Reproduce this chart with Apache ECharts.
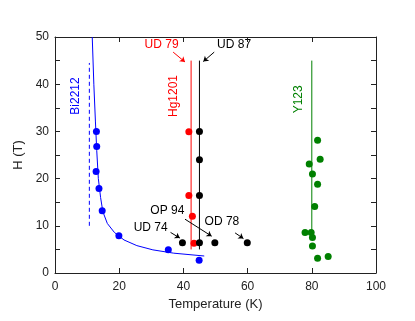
<!DOCTYPE html>
<html>
<head>
<meta charset="utf-8">
<script src="https://cdn.jsdelivr.net/npm/echarts@6/dist/echarts.min.js"></script>
<style>
  html, body { margin: 0; padding: 0; background: #fff; }
  #chart { width: 415px; height: 321px; }
</style>
</head>
<body>
<div id="chart"></div>
<script>
// measured points, [T (K), H (T)]
const bi2212Points = [[12.9, 30], [13.0, 26.8], [12.8, 21.5], [13.7, 17.9], [14.7, 13.2], [19.9, 7.9], [35.3, 4.9], [44.9, 2.7]]
const bi2212Curve = [[11.6, 50], [12.1, 40], [12.6, 32], [13.0, 26], [13.5, 20], [14.2, 16], [14.9, 13], [16.3, 10.5], [18.5, 8.6], [21.5, 7.0], [25.5, 5.8], [30.5, 4.9], [37, 4.2], [46.5, 3.6]]
const bi2212Dashed = [[10.7, 10], [10.7, 44.5]]
const hg79Points = [[41.7, 29.9], [41.7, 16.4], [42.8, 12.0], [43.3, 6.3]]
const hg79Line = [[42.4, 5], [42.4, 45]]
const hg87Points = [[45, 30], [45, 24], [45, 16.4], [45, 6.4], [39.7, 6.4], [49.8, 6.4], [59.9, 6.4]]
const hg87Line = [[45, 5], [45, 45]]
const y123Points = [[81.8, 28.1], [82.6, 24.1], [79.2, 23.1], [80.2, 21.0], [81.8, 18.8], [80.9, 14.1], [77.9, 8.6], [79.8, 8.6], [80.2, 7.5], [80.2, 5.7], [81.8, 3.1], [85.1, 3.5]]
const y123Line = [[80, 8.6], [80, 45]]

// annotation labels: text, position, colour, rotated
const labelTexts = ['UD 79', 'UD 87', 'OP 94', 'UD 74', 'OD 78', 'Bi2212', 'Hg1201', 'Y123']
const labelPos = [[33.2, 48.3], [55.8, 48.3], [35.0, 13.1], [29.8, 9.5], [52.0, 10.8], [6.3, 37.5], [37.0, 37.5], [76.0, 36.8]]
const labelColors = ['#ff0000', '#000', '#000', '#000', '#000', '#0000ff', '#ff0000', '#008000']
const labelRotated = [false, false, false, false, false, true, true, true]
// arrows from label to point
const arrows = [
  { from: [36.8, 46.8], to: [40.5, 44.7], color: '#ff0000' },
  { from: [49.6, 46.8], to: [46.2, 44.8], color: '#000' },
  { from: [40.5, 11.4], to: [48.8, 7.8], color: '#000' },
  { from: [36.0, 8.6], to: [38.9, 7.4], color: '#000' },
  { from: [56.1, 8.5], to: [58.7, 7.3], color: '#000' }
]

const font = 'Liberation Sans, Arial, Helvetica, sans-serif'
const chart = echarts.init(document.getElementById('chart'))

function dots (data, color) {
  return { type: 'scatter', data: data, symbolSize: 7, itemStyle: { color: color, opacity: 1 }, z: 5 }
}
function line (data, color, type) {
  return {
    type: 'line', data: data, showSymbol: false, symbol: 'none',
    lineStyle: { color: color, width: 1, type: type || 'solid' }, z: 3
  }
}

const axisLine = { show: true, onZero: false, lineStyle: { color: '#222', width: 1 } }
const tick = { show: true, inside: true, length: 5, lineStyle: { color: '#222' } }
const minor = { show: true, splitNumber: 2, length: 5, lineStyle: { color: '#222' } }

chart.setOption({
  animation: false,
  grid: { left: 55, right: 39, top: 37, bottom: 48 },
  xAxis: [
    {
      type: 'value', min: 0, max: 100, interval: 20,
      name: 'Temperature (K)', nameLocation: 'middle', nameGap: 24,
      nameTextStyle: { fontFamily: font, fontSize: 13, color: '#222' },
      axisLine: axisLine, axisTick: tick,
      axisLabel: { fontFamily: font, fontSize: 12, color: '#222', margin: 8 },
      splitLine: { show: false }
    },
    {
      type: 'value', min: 0, max: 100, interval: 20, position: 'top', gridIndex: 0,
      axisLine: axisLine, axisTick: tick,
      axisLabel: { show: false }, splitLine: { show: false }
    }
  ],
  yAxis: [
    {
      type: 'value', min: 0, max: 50, interval: 10,
      name: 'H (T)', nameLocation: 'middle', nameGap: 28,
      nameTextStyle: { fontFamily: font, fontSize: 13, color: '#222' },
      axisLine: axisLine, axisTick: tick, minorTick: minor,
      axisLabel: { fontFamily: font, fontSize: 12, color: '#222', margin: 6 },
      splitLine: { show: false }
    },
    {
      type: 'value', min: 0, max: 50, interval: 10, position: 'right', gridIndex: 0,
      axisLine: axisLine, axisTick: tick, minorTick: minor,
      axisLabel: { show: false }, splitLine: { show: false }
    }
  ],
  series: [
    line(bi2212Curve, '#0000ff'),
    line(bi2212Dashed, '#0000ff', [4, 3]),
    line(hg79Line, '#ff0000'),
    line(hg87Line, '#000'),
    line(y123Line, '#008000'),
    dots(bi2212Points, '#0000ff'),
    dots(hg79Points, '#ff0000'),
    dots(hg87Points, '#000'),
    dots(y123Points, '#008000'),
    // hidden series so the mirrored axes are in use
    { type: 'scatter', data: [], xAxisIndex: 1, yAxisIndex: 1 },
    {
      type: 'line', data: [], silent: true,
      markLine: {
        silent: true, symbol: ['none', 'arrow'], symbolSize: 5,
        label: { show: false },
        data: arrows.map(a => [
          { coord: a.from, lineStyle: { color: a.color, width: 1, type: 'solid' } },
          { coord: a.to }
        ])
      }
    }
  ]
})

// text labels placed through the axes
chart.setOption({
  graphic: labelTexts.map((t, i) => {
    const p = chart.convertToPixel({ gridIndex: 0 }, labelPos[i])
    return {
      type: 'text', x: p[0], y: p[1], rotation: labelRotated[i] ? Math.PI / 2 : 0,
      style: {
        text: t, fill: labelColors[i], font: '12px ' + font,
        textAlign: 'center', textVerticalAlign: 'middle'
      }
    }
  })
})
</script>
</body>
</html>
